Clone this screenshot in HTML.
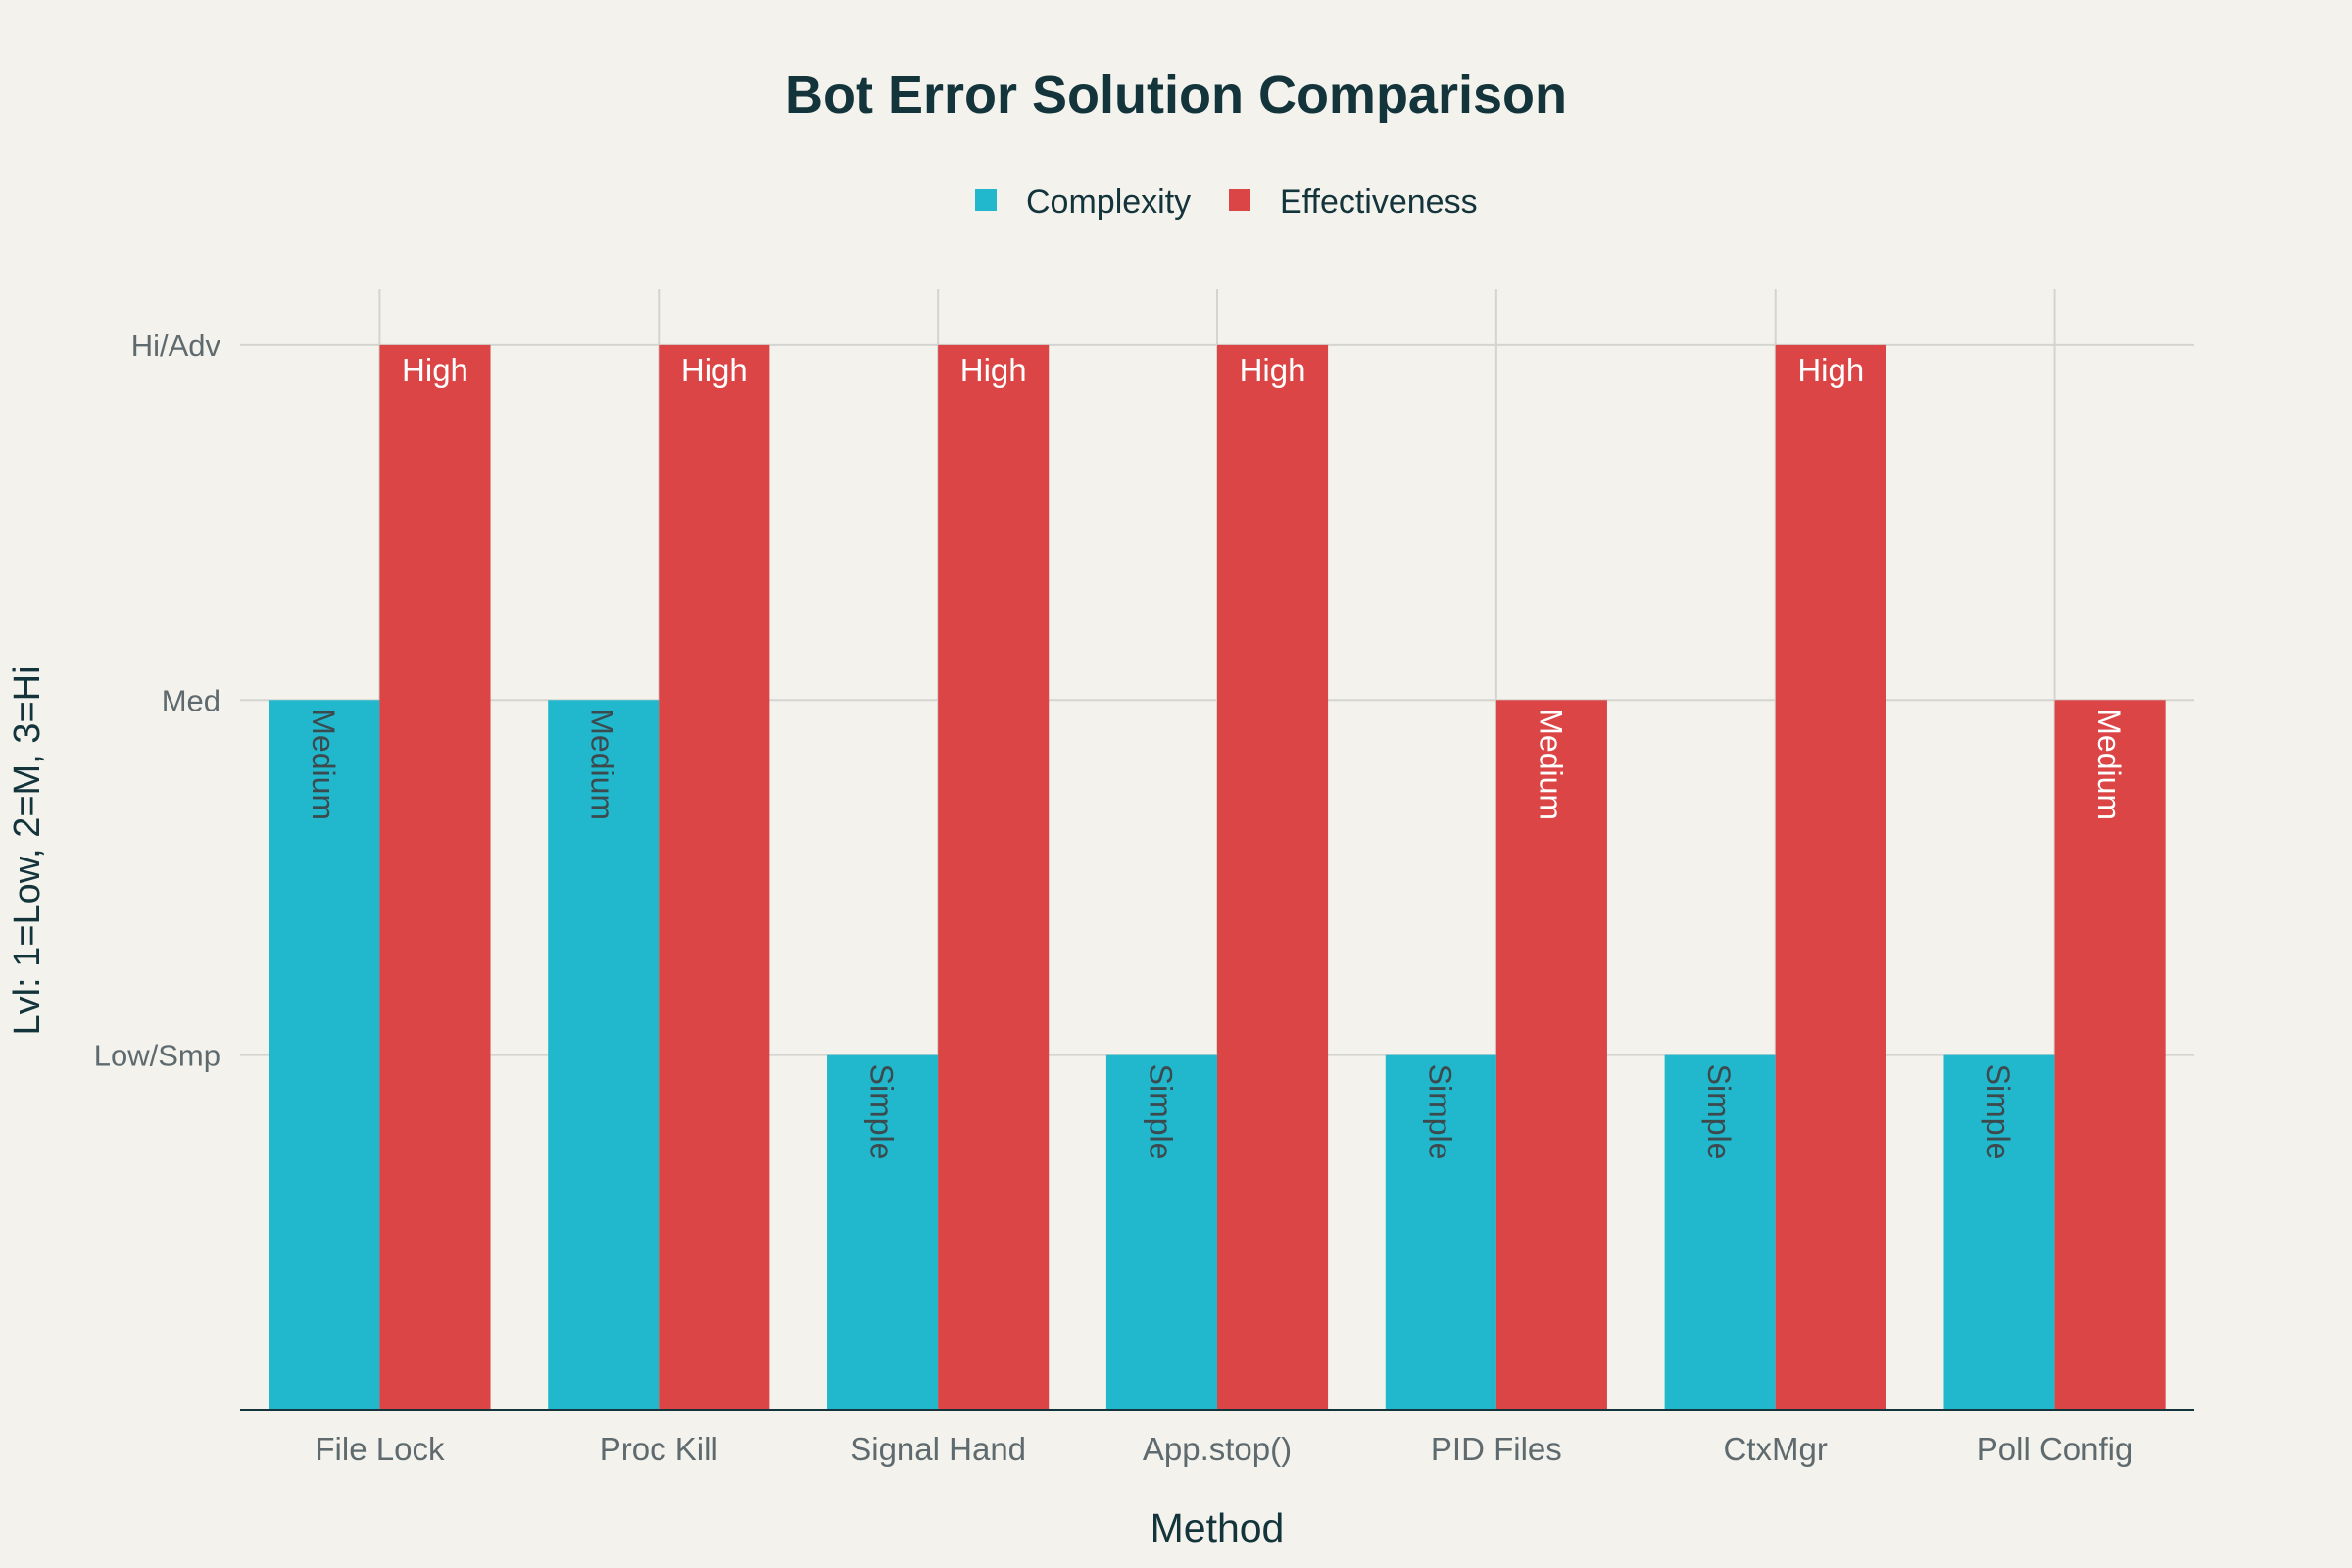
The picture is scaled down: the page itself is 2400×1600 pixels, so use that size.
<!DOCTYPE html>
<html><head><meta charset="utf-8"><style>
html,body{margin:0;padding:0;background:#F3F2EC;}
svg{display:block;font-family:"Liberation Sans",sans-serif;}
</style></head><body>
<svg id="chart" width="2400" height="1600" viewBox="0 0 2400 1600">
<rect width="2400" height="1600" fill="#F3F2EC"/>
<text x="1200" y="115" text-anchor="middle" font-size="54" font-weight="bold" fill="#13343B">Bot Error Solution Comparison</text>
<g>
<g><rect x="995" y="193" width="22" height="22" fill="#21B8CD"/><text x="1047" y="217" font-size="34" fill="#13343B">Complexity</text></g>
<g><rect x="1254" y="193" width="22" height="22" fill="#DB4545"/><text x="1306" y="217" font-size="34" fill="#13343B">Effectiveness</text></g>
</g>
<g id="grid"></g>
<g id="bars"></g>
<g id="axes"></g>
<text x="1242" y="1573" text-anchor="middle" font-size="41" fill="#13343B">Method</text>
<text transform="translate(40,868) rotate(-90)" text-anchor="middle" font-size="38" fill="#13343B">Lvl: 1=Low, 2=M, 3=Hi</text>
</svg>
<script>
const categories=["File Lock","Proc Kill","Signal Hand","App.stop()","PID Files","CtxMgr","Poll Config"];
const complexity=[2,2,1,1,1,1,1];
const effectiveness=[3,3,3,3,2,3,2];
const complexityLabels=["Medium","Medium","Simple","Simple","Simple","Simple","Simple"];
const effectivenessLabels=["High","High","High","High","Medium","High","Medium"];
const yTickValues=[1,2,3];
const yTickLabels=["Low/Smp","Med","Hi/Adv"];
const NS="http://www.w3.org/2000/svg";
const plotL=245,plotR=2239,plotTop=295,plotBottom=1439,yMax=3.157;
const yScale=v=>plotBottom-v/yMax*(plotBottom-plotTop);
const step=(plotR-plotL)/categories.length;
const xCenter=i=>plotL+step*(i+0.5);
const barW=step*0.397;
function mk(tag,attrs,parent){const e=document.createElementNS(NS,tag);for(const k in attrs)e.setAttribute(k,attrs[k]);parent.appendChild(e);return e;}
const grid=document.getElementById('grid'),bars=document.getElementById('bars'),axes=document.getElementById('axes');
yTickValues.forEach((v,i)=>{
 const l=mk('line',{x1:plotL,x2:plotR,y1:yScale(v),y2:yScale(v),stroke:'#D4D4D0','stroke-width':2},grid);
 
 
 const t=mk('text',{x:225,y:yScale(v)+11,'text-anchor':'end','font-size':31,fill:'#5E6A6E'},axes);
 t.textContent=yTickLabels[i];
 
 
});
categories.forEach((c,i)=>{
 const cx=xCenter(i);
 const g=mk('line',{x1:cx,x2:cx,y1:plotTop,y2:plotBottom,stroke:'#D4D4D0','stroke-width':2},grid);
 
 
 const yc=yScale(complexity[i]);
 const b1=mk('rect',{x:cx-barW,y:yc,width:barW,height:plotBottom-yc,fill:'#21B8CD'},bars);
 
 
 const t1=mk('text',{transform:`translate(${cx-barW/2-12},${yc+9}) rotate(90)`,'font-size':32,fill:'#3C4A4E'},bars);
 t1.textContent=complexityLabels[i];
 
 
 const ye=yScale(effectiveness[i]);
 const b2=mk('rect',{x:cx,y:ye,width:barW,height:plotBottom-ye,fill:'#DB4545'},bars);
 
 
 let t2;
 if(effectivenessLabels[i].length<=4){
  t2=mk('text',{x:cx+barW/2,y:ye+37,'text-anchor':'middle','font-size':33,fill:'#FFFFFF'},bars);
 }else{
  t2=mk('text',{transform:`translate(${cx+barW/2-12},${ye+9}) rotate(90)`,'font-size':32,fill:'#FFFFFF'},bars);
 }
 t2.textContent=effectivenessLabels[i];
 
 
 const xl=mk('text',{x:cx,y:1490,'text-anchor':'middle','font-size':33,fill:'#5E6A6E'},axes);
 xl.textContent=c;
 
 
});
const ax=mk('line',{x1:plotL,x2:plotR,y1:plotBottom,y2:plotBottom,stroke:'#13343B','stroke-width':2},axes);


</script>
</body></html>
